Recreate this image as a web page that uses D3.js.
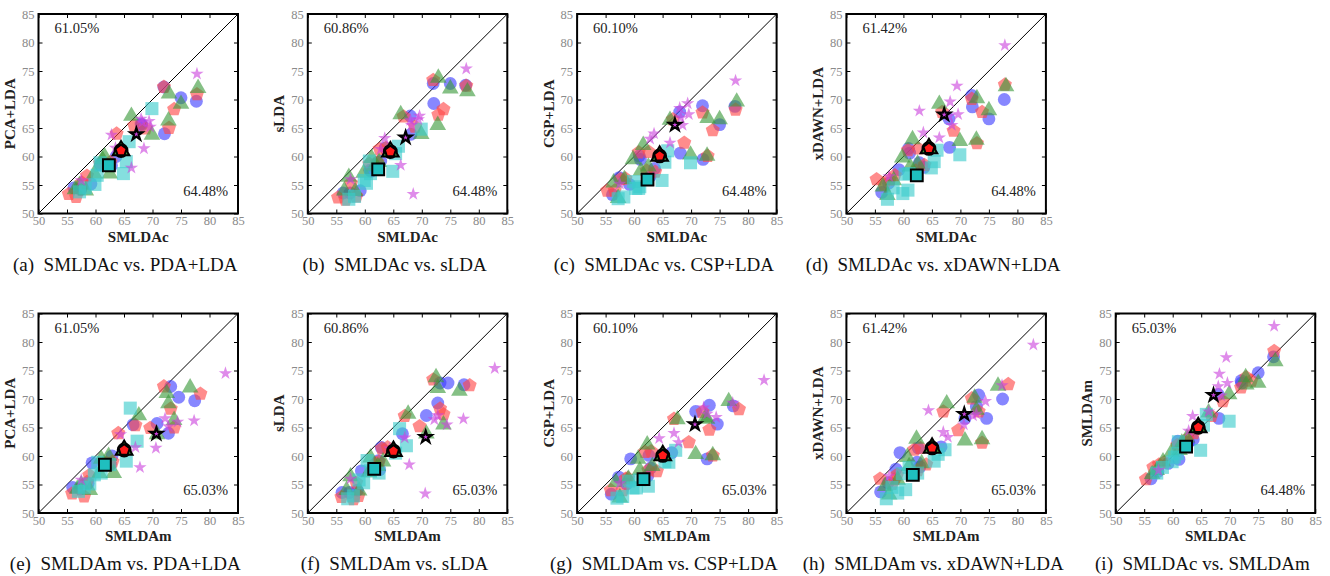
<!DOCTYPE html>
<html>
<head>
<meta charset="utf-8">
<script src="https://cdn.jsdelivr.net/npm/d3@7"></script>
<style>
  html, body { margin: 0; padding: 0; background: #fff; }
  svg { display: block; }
</style>
</head>
<body>
<svg id="chart" width="1330" height="576"></svg>
<script>
// Methods, in the column order used by every subject row below
const methods = ["SMLDAc", "SMLDAm", "PCA+LDA", "sLDA", "CSP+LDA", "xDAWN+LDA"];

// Per-subject accuracies (%) for each dataset: [SMLDAc, SMLDAm, PCA+LDA, sLDA, CSP+LDA, xDAWN+LDA]
const circleSubjects = [
  [56.2, 56.0, 54.5, 53.6, 53.3, 53.7],
  [57.4, 57.3, 54.2, 53.6, 56.3, 55.3],
  [59.2, 58.7, 55.2, 54.0, 55.1, 57.7],
  [60.9, 62.6, 58.5, 57.6, 60.1, 61.4],
  [61.1, 59.4, 58.8, 57.4, 59.5, 60.6],
  [62.8, 62.4, 58.4, 59.2, 56.5, 58.9],
  [63.6, 62.9, 60.0, 61.5, 57.9, 58.1],
  [68.0, 70.8, 65.7, 67.1, 67.8, 66.6],
  [68.1, 66.6, 65.5, 63.9, 60.6, 61.6],
  [72.0, 73.2, 72.2, 72.8, 68.9, 70.7],
  [72.1, 72.8, 64.0, 69.3, 59.5, 68.7],
  [75.0, 74.6, 70.3, 72.8, 65.6, 66.6],
  [77.7, 77.4, 69.7, 72.5, 68.8, 70.0]
];
const pentagonSubjects = [
  [55.3, 55.9, 53.4, 52.8, 54.0, 56.0],
  [56.6, 58.0, 52.9, 52.4, 54.0, 55.1],
  [57.6, 58.5, 55.4, 55.3, 56.0, 55.9],
  [58.5, 58.9, 56.6, 53.0, 56.1, 56.7],
  [60.8, 61.9, 58.8, 58.7, 60.7, 61.1],
  [62.2, 62.5, 58.5, 59.0, 57.5, 57.5],
  [62.6, 63.0, 59.0, 61.3, 60.8, 61.4],
  [63.7, 64.0, 64.0, 61.5, 57.3, 58.5],
  [66.8, 67.0, 65.4, 67.0, 66.5, 67.8],
  [68.8, 69.6, 64.9, 65.2, 62.4, 64.5],
  [72.0, 72.0, 72.2, 73.4, 67.7, 70.1],
  [72.9, 73.8, 65.0, 67.3, 60.1, 62.3],
  [73.8, 73.2, 68.3, 68.3, 64.6, 67.8],
  [77.8, 78.4, 70.9, 72.4, 68.2, 72.6]
];
const triangleSubjects = [
  [56.4, 56.8, 54.2, 54.0, 55.4, 54.7],
  [57.2, 57.5, 55.0, 56.4, 52.7, 53.2],
  [58.3, 59.0, 54.0, 53.9, 56.0, 55.8],
  [59.8, 60.7, 57.0, 57.1, 59.5, 59.8],
  [61.2, 61.0, 59.5, 59.7, 57.5, 58.2],
  [61.6, 62.3, 60.0, 58.2, 62.0, 63.0],
  [62.5, 63.2, 57.0, 59.0, 58.2, 58.7],
  [66.3, 67.6, 67.1, 67.4, 66.4, 69.2],
  [69.9, 70.8, 63.8, 63.9, 60.3, 62.7],
  [72.8, 73.8, 66.3, 65.5, 60.1, 62.9],
  [72.9, 72.5, 71.0, 73.8, 66.7, 70.2],
  [75.0, 72.8, 69.2, 71.9, 66.5, 68.1],
  [78.0, 76.6, 72.0, 71.4, 69.6, 72.3]
];
const squareSubjects = [
  [57.2, 57.0, 53.8, 52.5, 52.6, 52.5],
  [58.2, 58.0, 54.5, 53.0, 52.9, 54.5],
  [59.9, 59.0, 55.1, 55.8, 55.6, 53.5],
  [60.3, 59.8, 56.7, 55.3, 54.4, 56.9],
  [60.8, 60.4, 58.9, 59.2, 54.4, 54.1],
  [61.0, 62.5, 58.5, 57.0, 54.7, 57.0],
  [64.9, 61.0, 57.0, 57.4, 55.8, 58.0],
  [65.4, 65.4, 59.1, 60.5, 59.0, 59.1],
  [65.9, 67.3, 62.6, 61.8, 61.0, 61.1],
  [69.9, 66.1, 68.4, 64.8, 58.9, 60.3]
];
const starSubjects = [
  [57.5, 57.5, 55.8, 56.0, 55.2, 56.5],
  [62.8, 64.4, 63.8, 61.3, 63.1, 68.0],
  [63.5, 67.0, 61.5, 63.2, 64.0, 64.2],
  [66.3, 67.8, 58.0, 58.5, 62.4, 63.3],
  [68.0, 72.2, 66.6, 66.4, 68.5, 67.1],
  [68.2, 74.4, 66.0, 65.5, 66.8, 69.6],
  [68.5, 70.6, 61.4, 53.4, 65.5, 65.5],
  [69.4, 77.3, 66.2, 66.5, 69.3, 72.4],
  [69.6, 72.8, 65.2, 67.1, 67.4, 67.4],
  [77.8, 82.8, 74.5, 75.4, 73.3, 79.5]
];

// Panels: x method, y method, letter, caption, stated overall means (x, y)
const panelXMethod = ["SMLDAc", "SMLDAc", "SMLDAc", "SMLDAc", "SMLDAm", "SMLDAm", "SMLDAm", "SMLDAm", "SMLDAc"];
const panelYMethod = ["PCA+LDA", "sLDA", "CSP+LDA", "xDAWN+LDA", "PCA+LDA", "sLDA", "CSP+LDA", "xDAWN+LDA", "SMLDAm"];
const panelLetters = ["a", "b", "c", "d", "e", "f", "g", "h", "i"];
const panelCaptions = [
  "SMLDAc vs. PDA+LDA", "SMLDAc vs. sLDA", "SMLDAc vs. CSP+LDA", "SMLDAc vs. xDAWN+LDA",
  "SMLDAm vs. PDA+LDA", "SMLDAm vs. sLDA", "SMLDAm vs. CSP+LDA", "SMLDAm vs. xDAWN+LDA",
  "SMLDAc vs. SMLDAm"
];
const overallMeanX = [64.48, 64.48, 64.48, 64.48, 65.03, 65.03, 65.03, 65.03, 64.48];
const overallMeanY = [61.05, 60.86, 60.10, 61.42, 61.05, 60.86, 60.10, 61.42, 65.03];
const axisTicks = [50, 55, 60, 65, 70, 75, 80, 85];

// ---- drawing ----
const svg = d3.select("#chart");
const serif = "'Liberation Serif', 'DejaVu Serif', serif";
const plotSize = 199.5;
const colLeft = [38.5, 307.8, 577.1, 846.4, 1115.7];
const rowTop = [14, 313.5];

const pentagon = {
  draw(ctx, size) {
    const r = Math.sqrt(size / 2.3776);
    for (let k = 0; k < 5; k++) {
      const a = -Math.PI / 2 + k * 2 * Math.PI / 5;
      const px = r * Math.cos(a), py = r * Math.sin(a);
      if (k === 0) ctx.moveTo(px, py); else ctx.lineTo(px, py);
    }
    ctx.closePath();
  }
};

const series = [
  { rows: circleSubjects,   type: d3.symbolCircle,   size: 130, color: "#3d3dff", meanColor: "#3d3dff" },
  { rows: pentagonSubjects, type: pentagon,          size: 130, color: "#ff4545", meanColor: "#ff1a1a" },
  { rows: triangleSubjects, type: d3.symbolTriangle, size: 120, color: "#3a9a3a", meanColor: "#3a9a3a" },
  { rows: squareSubjects,   type: d3.symbolSquare,   size: 170, color: "#3acccc", meanColor: "#1fbfbf" },
  { rows: starSubjects,     type: d3.symbolStar,     size: 55,  color: "#cc44dd", meanColor: "#cc44dd" }
];

panelLetters.forEach((letter, i) => {
  const row = i < 4 ? 0 : 1;
  const col = i < 4 ? i : i - 4;
  const left = colLeft[col], top = rowTop[row];
  const xi = methods.indexOf(panelXMethod[i]);
  const yi = methods.indexOf(panelYMethod[i]);

  const x = d3.scaleLinear().domain([50, 85]).range([left, left + plotSize]);
  const y = d3.scaleLinear().domain([50, 85]).range([top + plotSize, top]);

  const g = svg.append("g");

  // axes with inward ticks on all four sides
  const styleAxis = sel => {
    sel.select(".domain").remove();
    sel.selectAll(".tick line").attr("stroke", "#000").attr("stroke-width", 1);
    sel.selectAll(".tick text").attr("fill", "#8a8a8a")
      .style("font-family", serif).style("font-size", "12.5px");
  };
  g.append("g").attr("transform", `translate(0,${top + plotSize})`)
    .call(d3.axisBottom(x).tickValues(axisTicks).tickSize(-4).tickPadding(3)).call(styleAxis);
  g.append("g").attr("transform", `translate(${left},0)`)
    .call(d3.axisLeft(y).tickValues(axisTicks).tickSize(-4).tickPadding(4)).call(styleAxis);
  g.append("g").attr("transform", `translate(0,${top})`)
    .call(d3.axisTop(x).tickValues(axisTicks).tickSize(-4).tickFormat("")).call(styleAxis);
  g.append("g").attr("transform", `translate(${left + plotSize},0)`)
    .call(d3.axisRight(y).tickValues(axisTicks).tickSize(-4).tickFormat("")).call(styleAxis);

  // diagonal y = x
  g.append("line")
    .attr("x1", x(50)).attr("y1", y(50)).attr("x2", x(85)).attr("y2", y(85))
    .attr("stroke", "#000").attr("stroke-width", 1);

  // subject markers
  series.forEach(s => {
    g.append("g").selectAll("path").data(s.rows).join("path")
      .attr("d", d3.symbol().type(s.type).size(s.size))
      .attr("transform", d => `translate(${x(d[xi])},${y(d[yi])})`)
      .attr("fill", s.color).attr("fill-opacity", 0.62);
  });

  // overall mean marker (circle, triangle and pentagon stacked)
  const mx = x(overallMeanX[i]), my = y(overallMeanY[i]);
  [series[0], series[2], series[1]].forEach((s, k) => {
    g.append("path")
      .attr("d", d3.symbol().type(s.type).size(k === 2 ? 80 : s.size))
      .attr("transform", `translate(${mx},${my})`)
      .attr("fill", s.meanColor).attr("stroke", "#000").attr("stroke-width", 2);
  });

  // dataset means for squares and stars
  [series[3], series[4]].forEach(s => {
    const cx = d3.mean(s.rows, d => d[xi]);
    const cy = d3.mean(s.rows, d => d[yi]);
    const isStar = s.type === d3.symbolStar;
    g.append("path")
      .attr("d", d3.symbol().type(s.type).size(isStar ? 45 : 140))
      .attr("transform", `translate(${x(cx)},${y(cy)})`)
      .attr("fill", s.meanColor).attr("stroke", "#000").attr("stroke-width", isStar ? 2.2 : 2);
  });

  // frame
  g.append("rect").attr("x", left).attr("y", top)
    .attr("width", plotSize).attr("height", plotSize)
    .attr("fill", "none").attr("stroke", "#000").attr("stroke-width", 2);

  // mean labels
  g.append("text").attr("x", left + 16).attr("y", top + 19)
    .style("font-family", serif).style("font-size", "14.5px").attr("fill", "#222")
    .text(overallMeanY[i].toFixed(2) + "%");
  g.append("text").attr("x", left + plotSize - 10).attr("y", top + plotSize - 18)
    .attr("text-anchor", "end")
    .style("font-family", serif).style("font-size", "14.5px").attr("fill", "#222")
    .text(overallMeanX[i].toFixed(2) + "%");

  // axis titles
  g.append("text").attr("x", left + plotSize / 2).attr("y", top + plotSize + 28)
    .attr("text-anchor", "middle")
    .style("font-family", serif).style("font-size", "15px").style("font-weight", "bold").attr("fill", "#222")
    .text(panelXMethod[i]);
  g.append("text")
    .attr("transform", `translate(${left - 23.5},${top + plotSize / 2}) rotate(-90)`)
    .attr("text-anchor", "middle")
    .style("font-family", serif).style("font-size", "15px").style("font-weight", "bold").attr("fill", "#222")
    .text(panelYMethod[i]);

  // caption
  g.append("text").attr("x", left + plotSize / 2 - 13).attr("y", top + plotSize + 57)
    .attr("text-anchor", "middle")
    .style("font-family", serif).style("font-size", "19px").attr("fill", "#111")
    .style("white-space", "pre").attr("xml:space", "preserve")
    .text(`(${letter})  ${panelCaptions[i]}`);
});
</script>
</body>
</html>
